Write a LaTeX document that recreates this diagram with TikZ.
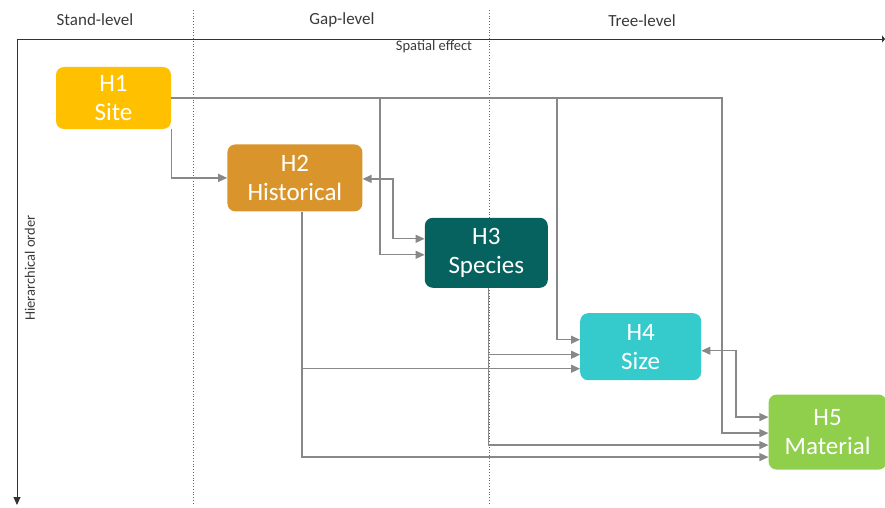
\documentclass[tikz,border=0pt]{standalone}
\usepackage{fontspec}
\setmainfont{Carlito}
\usetikzlibrary{arrows.meta,positioning}

\definecolor{siteC}{HTML}{FFC000}
\definecolor{histC}{HTML}{D9952B}
\definecolor{specC}{HTML}{06625E}
\definecolor{sizeC}{HTML}{35CACC}
\definecolor{matC}{HTML}{8FCF4C}
\definecolor{linkgray}{HTML}{888888}
\definecolor{labelgray}{HTML}{3A3A3A}

\begin{document}
\begin{tikzpicture}[x=1pt,y=-1pt,>={Triangle[length=9pt,width=8pt]},
  link/.style={->,draw=linkgray,line width=1.3pt},
  axis/.style={draw=black!80,line width=0.9pt},
  divider/.style={draw=black!60,dotted,line width=0.8pt},
  head/.style={text=labelgray,font=\fontsize{17}{20}\selectfont},
  level node/.style={rectangle,rounded corners=8pt,text=white,align=center,
    inner sep=2pt,font=\fontsize{25}{29}\selectfont}]

  \useasboundingbox (0,0) rectangle (885,508);

  % axes and level dividers
  \coordinate (origin) at (17,39);
  \coordinate (xend) at (885,39);
  \coordinate (yend) at (17,505);
  \draw[axis,-{Triangle[length=3pt,width=7pt]}] (origin) -- (xend);
  \draw[axis,-{Triangle[length=8pt,width=7pt]}] (origin) -- (yend);
  \draw[divider] (193,10) -- (193,505);
  \draw[divider] (489,10) -- (489,505);

  \node[head] (stand) at (95,20) {Stand-level};
  \node[head] (gap) at (342,20) {Gap-level};
  \node[head] (tree) at (642,21) {Tree-level};
  \node[text=labelgray,font=\fontsize{14.5}{17}\selectfont] (spatial) at (434,47) {Spatial effect};
  \node[text=labelgray,font=\fontsize{14.5}{17}\selectfont,rotate=90] (order) at (30,268) {Hierarchical order};

  % hypotheses
  \node[level node,fill=siteC,minimum width=115pt,minimum height=62pt] (h1) at (113.5,98) {H1\\Site};
  \node[level node,fill=histC,minimum width=135pt,minimum height=67pt,below right=15pt and 56pt of h1] (h2) {H2\\Historical};
  \node[level node,fill=specC,minimum width=123pt,minimum height=70pt,below right=6pt and 62pt of h2] (h3) {H3\\Species};
  \node[level node,fill=sizeC,minimum width=121pt,minimum height=67pt,below right=25pt and 32pt of h3] (h4) {H4\\Size};
  \node[level node,fill=matC,minimum width=118pt,minimum height=75pt,below right=14pt and 67pt of h4] (h5) {H5\\Material};

  % lanes and ports
  \coordinate (lA) at (380,0);
  \coordinate (lB) at (393,0);
  \coordinate (lC) at (557,0);
  \coordinate (lD) at (722,0);
  \coordinate (lE) at (736,0);
  \coordinate (h2e) at ([yshift=-1pt]h2.east);
  \coordinate (h2s) at ([xshift=7pt]h2.south);
  \coordinate (h3a) at ([yshift=14pt]h3.west);
  \coordinate (h3b) at ([yshift=-2pt]h3.west);
  \coordinate (h3s) at ([xshift=2pt]h3.south);
  \coordinate (h4a) at ([yshift=7pt]h4.west);
  \coordinate (h4b) at ([yshift=-8pt]h4.west);
  \coordinate (h4c) at ([yshift=-22pt]h4.west);
  \coordinate (h4e) at ([yshift=-4pt]h4.east);
  \coordinate (h5a) at ([yshift=15pt]h5.west);
  \coordinate (h5b) at ([yshift=-1pt]h5.west);
  \coordinate (h5c) at ([yshift=-13pt]h5.west);
  \coordinate (h5d) at ([yshift=-25pt]h5.west);

  % effects
  \draw[link] (h1.south east) |- (h2.west);
  \draw[link] (h1.east) -| (lA |- h3b) -- (h3b);
  \draw[link] (h1.east) -| (lC |- h4a) -- (h4a);
  \draw[link] (h1.east) -| (lD |- h5b) -- (h5b);
  \draw[link,<->] (h2e) -| (lB |- h3a) -- (h3a);
  \draw[link] (h2s) |- (h4c);
  \draw[link] (h2s) |- (h5d);
  \draw[link] (h3s) |- (h4b);
  \draw[link] (h3s) |- (h5c);
  \draw[link,<->] (h4e) -| (lE |- h5a) -- (h5a);
\end{tikzpicture}
\end{document}
